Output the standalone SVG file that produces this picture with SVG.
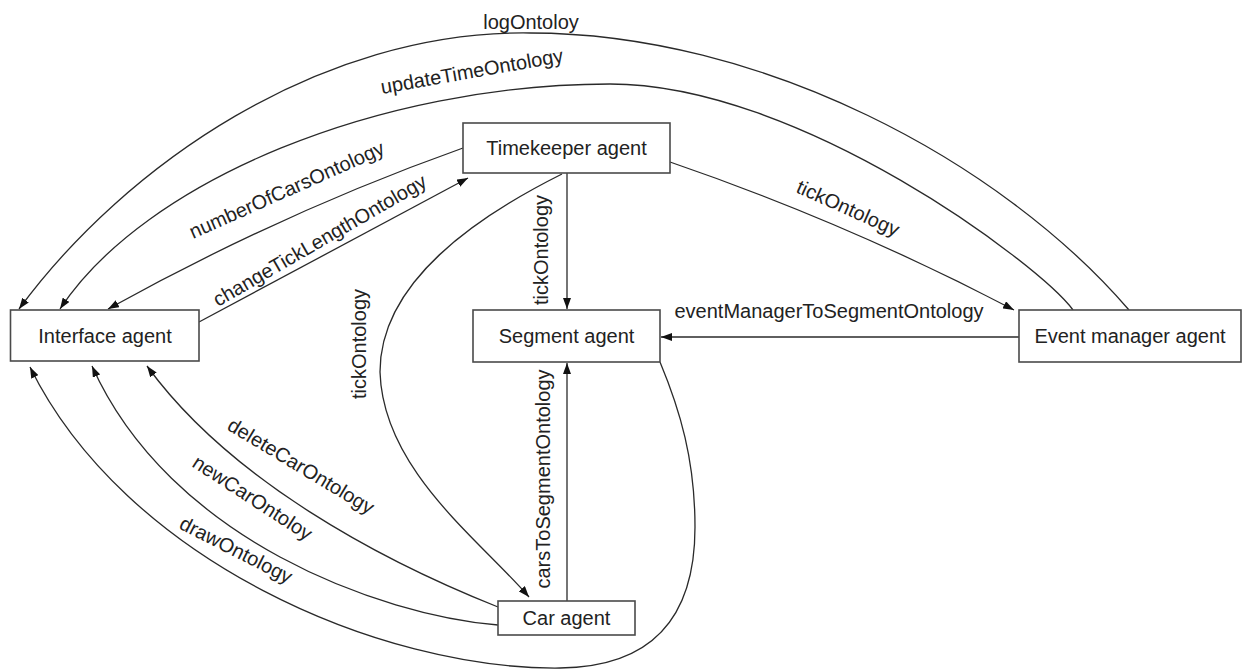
<svg xmlns="http://www.w3.org/2000/svg" width="1248" height="669" viewBox="0 0 1248 669">
<defs>
<style>
.box{fill:#fff;stroke:#4a4a4a;stroke-width:1.6}
.nt{font-family:"Liberation Sans",Arial,sans-serif;font-size:20px;fill:#222;text-anchor:middle}
.lb{font-family:"Liberation Sans",Arial,sans-serif;font-size:20px;fill:#222}
.ln{fill:none;stroke:#2a2a2a;stroke-width:1.3;marker-end:url(#ah)}
</style>
<marker id="ah" markerUnits="userSpaceOnUse" viewBox="0 0 11 8" refX="11" refY="4" markerWidth="11" markerHeight="8" orient="auto">
<path d="M0,0 L11,4 L0,8 z" fill="#111"/>
</marker>
</defs>
<rect width="1248" height="669" fill="#fff"/>
<g id="connectors">
<path class="ln" d="M1129,310 C1000,160 760,33 530,33 C320,30 125,165 19,309"/>
<path class="ln" d="M1073,310 C1040,265 800,84 610,84 C380,84 145,180 60,309"/>
<path class="ln" d="M463,148 Q283,212 108,309"/>
<path class="ln" d="M199,322 L468,178"/>
<path class="ln" d="M567,173 L567,309"/>
<path class="ln" d="M670,162 Q848,223 1014,310"/>
<path class="ln" d="M1019,337 L661,337"/>
<path class="ln" d="M562,174 C480,215 380,280 380,372 C383,470 480,540 529,597"/>
<path class="ln" d="M567,601 L567,363"/>
<path class="ln" d="M498,607 C380,560 230,480 147,366"/>
<path class="ln" d="M498,625 C380,615 170,540 92,366"/>
<path class="ln" d="M660,362 C680,410 695,460 695,527 C695,620 650,667 560,668 C380,670 125,560 30,367"/>
<g id="labels">
<text class="lb" x="531" y="29" text-anchor="middle">logOntoloy</text>
<text class="lb" transform="translate(382,94) rotate(-10)">updateTimeOntology</text>
<text class="lb" transform="translate(193,239) rotate(-24)">numberOfCarsOntology</text>
<text class="lb" transform="translate(218,307) rotate(-30)">changeTickLengthOntology</text>
<text class="lb" transform="translate(548,250) rotate(-90)" text-anchor="middle">tickOntology</text>
<text class="lb" transform="translate(795,192) rotate(24)">tickOntology</text>
<text class="lb" x="829" y="318" text-anchor="middle">eventManagerToSegmentOntology</text>
<text class="lb" transform="translate(366,344) rotate(-90)" text-anchor="middle">tickOntology</text>
<text class="lb" transform="translate(550,479) rotate(-90)" text-anchor="middle">carsToSegmentOntology</text>
<text class="lb" transform="translate(226,429) rotate(31)">deleteCarOntology</text>
<text class="lb" transform="translate(191,466) rotate(33)">newCarOntoloy</text>
<text class="lb" transform="translate(178,528) rotate(27)">drawOntology</text>
</g>
</g>
<g id="interface-agent">
<rect class="box" x="10.5" y="310" width="188.5" height="51"/>
<text class="nt" x="105" y="343">Interface agent</text>
</g>
<g id="timekeeper-agent">
<rect class="box" x="463" y="123" width="207" height="50"/>
<text class="nt" x="566.5" y="155">Timekeeper agent</text>
</g>
<g id="segment-agent">
<rect class="box" x="473" y="310" width="187" height="52"/>
<text class="nt" x="566.5" y="343">Segment agent</text>
</g>
<g id="event-manager-agent">
<rect class="box" x="1019" y="310" width="222" height="52"/>
<text class="nt" x="1130" y="343">Event manager agent</text>
</g>
<g id="car-agent">
<rect class="box" x="498" y="601" width="137" height="34"/>
<text class="nt" x="566.5" y="625">Car agent</text>
</g>
</svg>
